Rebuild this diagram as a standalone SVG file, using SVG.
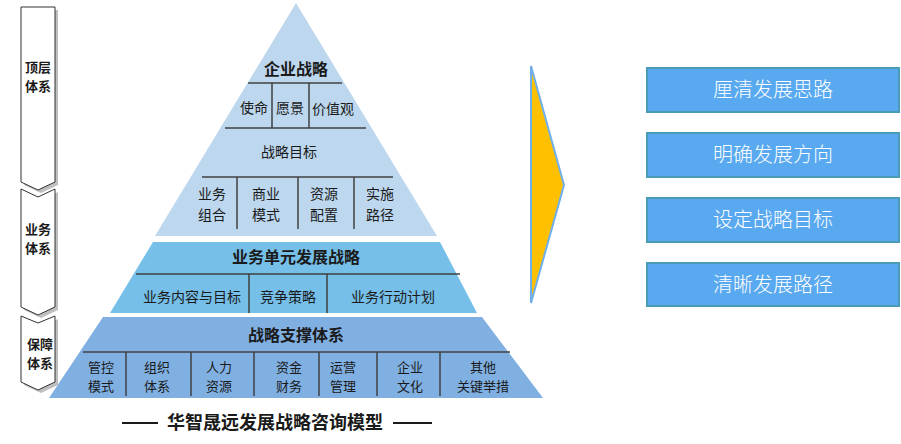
<svg xmlns="http://www.w3.org/2000/svg" width="901" height="444" viewBox="0 0 901 444">
<defs>
<style>
text{font-family:"Noto Sans CJK SC","Noto Sans",sans-serif;text-anchor:middle;fill:#1a1a1a}
.t{font-size:14px}
.t2{font-size:13px}
.b{font-size:16px;font-weight:bold}
.s{font-size:13px;font-weight:bold}
.w{font-size:20px;fill:#ffffff;font-weight:300}
.ln{stroke:#404040;stroke-width:1.5;fill:none}
.chev{fill:#ffffff;stroke:#333333;stroke-width:1}
.sh{fill:#bfbfbf}
.box{fill:#59a9f0;stroke:#4a9bb6;stroke-width:2}
</style>
</defs>
<rect width="901" height="444" fill="#ffffff"/>

<g id="side-top">
<path class="sh" d="M24,10 H58 V185 L41,193 L24,185 Z"/>
<path class="chev" d="M21,7 H55 V182 L38,190 L21,182 Z"/>
<text class="s" x="38" y="72">顶层</text>
<text class="s" x="38" y="91">体系</text>
</g>
<g id="side-mid">
<path class="sh" d="M24,192 L41,200 L58,192 V310 L41,318 L24,310 Z"/>
<path class="chev" d="M21,189 L38,197 L55,189 V307 L38,315 L21,307 Z"/>
<text class="s" x="38" y="234">业务</text>
<text class="s" x="38" y="253">体系</text>
</g>
<g id="side-bot">
<path class="sh" d="M24,319 L41,326 L58,319 V385 L41,393 L24,385 Z"/>
<path class="chev" d="M21,316 L38,323 L55,316 V382 L38,390 L21,382 Z"/>
<text class="s" x="40" y="349">保障</text>
<text class="s" x="40" y="368">体系</text>
</g>

<g id="top-layer">
<polygon points="296,3 437,236 155,236" fill="#bdd7ee"/>
<text class="b" x="296" y="75">企业战略</text>
<text class="t" x="254" y="113">使命</text>
<text class="t" x="290" y="113">愿景</text>
<text class="t" x="333" y="114">价值观</text>
<text class="t" x="289" y="157">战略目标</text>
<text class="t" x="212" y="199">业务</text>
<text class="t" x="212" y="220">组合</text>
<text class="t" x="266" y="199">商业</text>
<text class="t" x="266" y="220">模式</text>
<text class="t" x="324" y="199">资源</text>
<text class="t" x="324" y="220">配置</text>
<text class="t" x="380" y="199">实施</text>
<text class="t" x="380" y="220">路径</text>
</g>

<g id="mid-layer">
<polygon points="153,242 440,242 477,313 110,313" fill="#75bfe8"/>
<text class="b" x="296" y="263">业务单元发展战略</text>
<text class="t" x="192" y="302">业务内容与目标</text>
<text class="t" x="288" y="302">竞争策略</text>
<text class="t" x="393" y="302">业务行动计划</text>
</g>

<g id="bot-layer">
<polygon points="103,317 482,317 543,398 49,398" fill="#80b0e2"/>
<text class="b" x="296" y="341">战略支撑体系</text>
<text class="t2" x="101" y="372">管控</text>
<text class="t2" x="101" y="391">模式</text>
<text class="t2" x="157" y="372">组织</text>
<text class="t2" x="157" y="391">体系</text>
<text class="t2" x="219" y="372">人力</text>
<text class="t2" x="219" y="391">资源</text>
<text class="t2" x="289" y="372">资金</text>
<text class="t2" x="289" y="391">财务</text>
<text class="t2" x="343" y="372">运营</text>
<text class="t2" x="343" y="391">管理</text>
<text class="t2" x="410" y="372">企业</text>
<text class="t2" x="410" y="391">文化</text>
<text class="t2" x="483" y="372">其他</text>
<text class="t2" x="483" y="391">关键举措</text>
</g>

<g id="connectors">
<line class="ln" x1="248" y1="83" x2="342" y2="83"/>
<line class="ln" x1="272" y1="83" x2="272" y2="128"/>
<line class="ln" x1="309" y1="83" x2="309" y2="128"/>
<line class="ln" x1="225" y1="128" x2="366" y2="128"/>
<line class="ln" x1="202" y1="177" x2="393" y2="177"/>
<line class="ln" x1="237" y1="177" x2="237" y2="229"/>
<line class="ln" x1="298" y1="177" x2="298" y2="229"/>
<line class="ln" x1="354" y1="177" x2="354" y2="229"/>
<line class="ln" x1="136" y1="274" x2="460" y2="274"/>
<line class="ln" x1="249" y1="274" x2="249" y2="313"/>
<line class="ln" x1="327" y1="274" x2="327" y2="313"/>
<line class="ln" x1="83" y1="352" x2="510" y2="352"/>
<line class="ln" x1="126" y1="352" x2="126" y2="396"/>
<line class="ln" x1="191" y1="352" x2="191" y2="396"/>
<line class="ln" x1="254" y1="352" x2="254" y2="396"/>
<line class="ln" x1="319" y1="352" x2="319" y2="396"/>
<line class="ln" x1="377" y1="352" x2="377" y2="396"/>
<line class="ln" x1="440" y1="352" x2="440" y2="396"/>
</g>

<g id="caption">
<line x1="122" y1="423" x2="158" y2="423" stroke="#1a1a1a" stroke-width="2"/>
<text x="275" y="429" style="font-size:18px;font-weight:bold">华智晟远发展战略咨询模型</text>
<line x1="393" y1="423" x2="432" y2="423" stroke="#1a1a1a" stroke-width="2"/>
</g>

<g id="arrow">
<polygon points="531,66 564,185 531,303" fill="#ffc000" stroke="#6fb0ec" stroke-width="2"/>
</g>

<g id="box1">
<rect class="box" x="647" y="68" width="252" height="44"/>
<text class="w" x="773" y="97">厘清发展思路</text>
</g>
<g id="box2">
<rect class="box" x="647" y="133" width="252" height="44"/>
<text class="w" x="773" y="162">明确发展方向</text>
</g>
<g id="box3">
<rect class="box" x="647" y="198" width="252" height="44"/>
<text class="w" x="773" y="227">设定战略目标</text>
</g>
<g id="box4">
<rect class="box" x="647" y="263" width="252" height="43"/>
<text class="w" x="773" y="292">清晰发展路径</text>
</g>
</svg>
